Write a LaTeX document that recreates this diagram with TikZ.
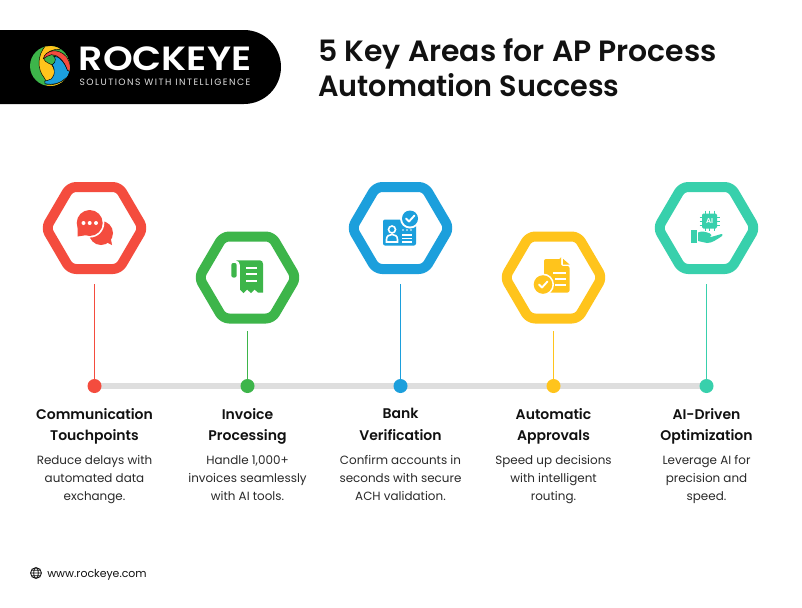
\documentclass[tikz,border=0pt]{standalone}
\usepackage{fontspec}
\setmainfont{Poppins}[BoldFont={Poppins SemiBold}]
\newfontfamily\spaced[LetterSpace=16]{Poppins}
\definecolor{cred}{HTML}{F44C3E}
\definecolor{cgreen}{HTML}{3DB54A}
\definecolor{cblue}{HTML}{1C9FDC}
\definecolor{cyellow}{HTML}{FFC41C}
\definecolor{cteal}{HTML}{38D0AC}
\definecolor{cbar}{HTML}{DEDEDE}
\definecolor{ink}{HTML}{111111}
\tikzset{
  x=0.75pt,y=-0.75pt,
  hexa/.style={line width=7.5pt,rounded corners=4.5pt,line join=round},
  stem/.style={line width=1.4pt},
  dotn/.style={circle,inner sep=0pt,minimum size=10.5pt},
  head/.style={align=center,font=\bfseries\fontsize{10.5pt}{15.8pt}\selectfont,text=ink,inner sep=0pt,anchor=north,execute at begin node=\strut},
  body/.style={align=center,font=\fontsize{8.95pt}{13.5pt}\selectfont,text=ink!90,inner sep=0pt,anchor=north,execute at begin node=\strut},
}
\newcommand{\hexshape}[3]{\draw[hexa,#3] (#1-48.5,#2) -- (#1-24.5,#2-41) -- (#1+24.5,#2-41) -- (#1+48.5,#2) -- (#1+24.5,#2+41) -- (#1-24.5,#2+41) -- cycle;}
\begin{document}
\begin{tikzpicture}
\path[use as bounding box,fill=white] (0,0) rectangle (802,607);
% logo bar
\fill[black] (0,30) -- (244,30) arc[start angle=90,end angle=-90,x radius=37,y radius=-37] -- (0,104) -- cycle;
% swirl
\begin{scope}[shift={(25,42)},x=0.25pt,y=-0.25pt]
\clip (75,72) circle (60);
\fill[cgreen] (75,72) circle (60);
\filldraw[cyellow,draw=black,line width=.35pt] (60,13) .. controls (38,40) and (35,80) .. (58,108) -- (68,125) .. controls (90,118) and (96,90) .. (80,68) .. controls (65,62) and (55,55) .. (57,48) .. controls (62,30) and (85,20) .. (105,22) -- (100,8) -- cycle;
\filldraw[cred,draw=black,line width=.35pt] (55,50) .. controls (60,25) and (100,15) .. (125,45) .. controls (135,60) and (137,75) .. (137,90) -- (127,85) .. controls (118,55) and (95,37) .. (80,38) .. controls (70,40) and (62,45) .. (55,50) -- cycle;
\filldraw[cblue,draw=black,line width=.35pt] (82,68) .. controls (95,60) and (92,45) .. (85,42) .. controls (105,42) and (120,65) .. (127,85) -- (137,90) -- (135,100) -- (120,110) .. controls (105,125) and (85,130) .. (60,125) .. controls (55,120) and (60,113) .. (68,115) .. controls (85,115) and (95,90) .. (82,68) -- cycle;
\filldraw[cyellow,draw=black,line width=.35pt] (62,129) .. controls (85,130) and (105,125) .. (124,108) -- (128,130) -- (70,140) -- cycle;
\end{scope}
\node[font=\bfseries\fontsize{25.2pt}{26pt}\selectfont,text=white,inner sep=0pt,anchor=center] (brand) at (165,58.5) {\scalebox{1.126}[1]{ROCKEYE}};
\node[font=\spaced\fontsize{6.9pt}{8pt}\selectfont,text=white!88!black,inner sep=0pt,anchor=center] (tag) at (165,82.5) {SOLUTIONS WITH INTELLIGENCE};
% title
\node[font=\bfseries\fontsize{22pt}{26.2pt}\selectfont,text=ink,align=left,inner sep=0pt,anchor=west] (title) at (318,67.5) {\scalebox{1.018}[1]{5 Key Areas for AP Process}\\\scalebox{0.977}[1]{Automation Success}};
% bar
\node[inner sep=0pt] (barL) at (94.5,386) {};
\node[inner sep=0pt] (barR) at (706.5,386) {};
\draw[cbar,line width=4.6pt] (barL) -- (barR);
% hexagons
\hexshape{94.5}{228}{cred}
\hexshape{247.5}{277.5}{cgreen}
\hexshape{400.5}{228}{cblue}
\hexshape{553.5}{277.5}{cyellow}
\hexshape{706.5}{228}{cteal}
% stems and dots
\coordinate (s1) at (94.5,284);
\coordinate (s2) at (247.5,331);
\coordinate (s3) at (400.5,284);
\coordinate (s4) at (553.5,331);
\coordinate (s5) at (706.5,284);
\node[dotn,fill=cred] (d1) at (94.5,386) {};
\node[dotn,fill=cgreen] (d2) at (247.5,386) {};
\node[dotn,fill=cblue] (d3) at (400.5,386) {};
\node[dotn,fill=cyellow] (d4) at (553.5,386) {};
\node[dotn,fill=cteal] (d5) at (706.5,386) {};
\draw[stem,cred] (s1) -- (d1);
\draw[stem,cgreen] (s2) -- (d2);
\draw[stem,cblue] (s3) -- (d3);
\draw[stem,cyellow] (s4) -- (d4);
\draw[stem,cteal] (s5) -- (d5);
% icon 1 chat
\fill[cred] (101,233) circle (12);
\fill[cred] (104,241) -- (112,245) -- (110,234) -- cycle;
\fill[white] (89.7,223) circle (14.6);
\fill[cred] (89.7,223) circle (13);
\fill[cred] (77.5,224) -- (77.5,236.5) -- (87,235) -- cycle;
\fill[white] (83.5,223) circle (2) (89.7,223) circle (2) (96,223) circle (2);
% icon 2 receipt
\fill[cgreen,rounded corners=1.5pt] (231.3,277.5) -- (231.3,263) -- (236.7,263) -- (236.7,277.5) -- cycle;
\fill[cgreen] (236,260.3) -- (260,260.3) .. controls (262,260.3) and (263,262) .. (263,264) -- (263,292.5) -- (258,292.5) -- (254.5,289.5) -- (251,293) -- (247,289.5) -- (243.5,293) -- (240,289.5) -- (240,265) .. controls (240,262) and (238,261) .. (236,260.3) -- cycle;
\draw[white,line width=1.5pt] (246,267.7) -- (257,267.7) (246,274.3) -- (257,274.3) (246,281) -- (257,281);
% icon 3 id
\fill[cblue,rounded corners=1.5pt] (383,219.5) rectangle (416,245.5);
\fill[white] (410,218.5) circle (10);
\fill[cblue] (410,218.5) circle (8);
\draw[white,line width=1.4pt,line cap=round,line join=round] (406,218.5) -- (409,221.5) -- (414.5,215.5);
\draw[white,line width=1.2pt] (392,229.5) circle (3.5);
\draw[white,line width=1.2pt] (386.5,242) -- (386.5,239.5) .. controls (386.5,236) and (389,234.5) .. (392,234.5) .. controls (395,234.5) and (397.5,236) .. (397.5,239.5) -- (397.5,242) -- cycle;
\draw[white,line width=1pt] (402,235) -- (412,235) (402,238.5) -- (412,238.5) (402,242) -- (412,242);
\fill[white] (403,230) circle (.9) (407,230) circle (.9) (411,230) circle (.9);
% icon 4 doc
\fill[cyellow,rounded corners=1.5pt] (544,259) -- (561,259) -- (561,259) -- (561,266) -- (569.5,266) -- (569.5,292.5) -- (544,292.5) -- cycle;
\fill[cyellow] (563,258.8) -- (569.5,264.5) -- (563,264.5) -- cycle;
\draw[white,line width=1pt] (553,273) -- (566,273) (555,279) -- (566,279) (555,285) -- (566,285);
\fill[white] (543,284.5) circle (11);
\fill[cyellow] (543,284.5) circle (9.3);
\draw[white,line width=1.4pt,line cap=round,line join=round] (539,284.5) -- (542,287.5) -- (547.5,281.5);
% icon 5 AI
\fill[cteal,rounded corners=1pt] (702,213.5) rectangle (717,228.5);
\draw[cteal,line width=.7pt] (705,210.5) -- (705,231) (709.5,210.5) -- (709.5,231) (714,210.5) -- (714,231)
  (699.5,217) -- (719.5,217) (699.5,221) -- (719.5,221) (699.5,225) -- (719.5,225);
\node[font=\bfseries\fontsize{5.3pt}{6pt}\selectfont,text=white,inner sep=0pt] (ai) at (709.5,221) {AI};
\fill[cteal] (691,230) rectangle (696.5,243);
\fill[cteal] (698,232.5) .. controls (702,230.5) and (706,232) .. (710,233.5) .. controls (712,234.2) and (712,236.5) .. (710,236.5) -- (704,236.5) -- (711,237) -- (721.5,234) .. controls (722.5,234) and (723,235) .. (722,236) .. controls (716,240) and (712,243) .. (707,243) -- (698,241) -- cycle;
% texts
\node[head] (t1) at (94.5,408.3) {Communication\\Touchpoints};
\node[head] (t2) at (247.5,408.3) {Invoice\\Processing};
\node[head] (t3) at (400.5,408.3) {Bank\\Verification};
\node[head] (t4) at (553.5,408.3) {Automatic\\Approvals};
\node[head] (t5) at (706.5,408.3) {AI-Driven\\Optimization};
\node[body] (b1) at (94.5,454.9) {Reduce delays with\\automated data\\exchange.};
\node[body] (b2) at (247.5,454.9) {Handle 1,000+\\invoices seamlessly\\with AI tools.};
\node[body] (b3) at (400.5,454.9) {Confirm accounts in\\seconds with secure\\ACH validation.};
\node[body] (b4) at (553.5,454.9) {Speed up decisions\\with intelligent\\routing.};
\node[body] (b5) at (706.5,454.9) {Leverage AI for\\precision and\\speed.};
% footer
\draw[ink,line width=.6pt] (36,573) circle (5.5) (36,573) ellipse (2.4 and 5.5) (30.5,573) -- (41.5,573) (31.2,570.2) -- (40.8,570.2) (31.2,575.8) -- (40.8,575.8);
\node[font=\fontsize{8.2pt}{10pt}\selectfont,text=ink,inner sep=0pt,anchor=west] (web) at (47,574.5) {www.rockeye.com};
\end{tikzpicture}
\end{document}
